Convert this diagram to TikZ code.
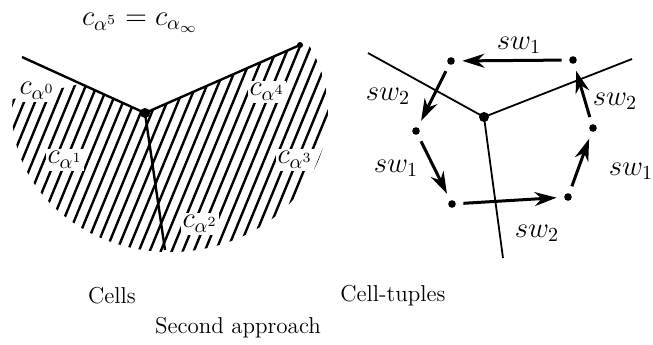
\documentclass[tikz,border=0pt]{standalone}
\usetikzlibrary{arrows.meta}

\begin{document}
\begin{tikzpicture}[
  x=0.5pt, y=-0.5pt,
  cellline/.style={line width=1.2pt},
  cellhatch/.style={line width=1.2pt},
  tupleline/.style={line width=0.9pt},
  vertexdot/.style={circle, fill=black, inner sep=0pt, minimum size=5pt},
  enddot/.style={circle, fill=black, inner sep=0pt, minimum size=3pt},
  tupledot/.style={circle, fill=black, inner sep=0pt, minimum size=3.8pt},
  cellname/.style={fill=white, inner sep=1pt, font=\fontsize{14}{16}\selectfont},
  swname/.style={inner sep=1pt, font=\fontsize{14}{16}\selectfont},
  swarrow/.style={
    -{Stealth[length=11pt, width=7pt, inset=3.5pt]}, line width=1.5pt,
    shorten <=3.6pt, shorten >=3.6pt,
  },
  captiontext/.style={font=\fontsize{11.5}{13}\selectfont},
]
\useasboundingbox (0,0) rectangle (653,344);

% cells
\begin{scope}
  \clip (0,102) -- (80,84) -- (145,113) -- (300,45) -- (340,45)
    -- (340,270) -- (0,270) -- cycle;
  \clip (170,112) ellipse [x radius=79pt, y radius=70pt];
  \foreach \hx in {0,11,...,473}
    \draw[cellhatch] (\hx,0) -- ++(-111,270);
\end{scope}
\coordinate (cellleft) at (22,57);
\coordinate (cellbottom) at (165,250);
\node[vertexdot] (cellvertex) at (145,113) {};
\node[enddot] (cellend) at (300,45) {};
\draw[cellline] (cellleft) -- (cellvertex.center) -- (cellend.center);
\draw[cellline] (cellvertex.center) -- (cellbottom);

\node[cellname, fill=none] (cellinf) at (140,23) {$c_{\alpha^5}=c_{\alpha_\infty}$};
\node[cellname] (cell0) at (37,91) {$c_{\alpha^0}$};
\node[cellname] (cell1) at (65,160) {$c_{\alpha^1}$};
\node[cellname] (cell2) at (200,224) {$c_{\alpha^2}$};
\node[cellname] (cell3) at (295,160) {$c_{\alpha^3}$};
\node[cellname] (cell4) at (267,92) {$c_{\alpha^4}$};

% cell-tuples
\coordinate (tupleleft) at (368,53);
\coordinate (tupleright) at (632,59);
\coordinate (tuplebottom) at (503,258);
\node[vertexdot] (tuplevertex) at (484,117) {};
\draw[tupleline] (tupleleft) -- (tuplevertex.center) -- (tupleright);
\draw[tupleline] (tuplevertex.center) -- (tuplebottom);

\node[tupledot] (tupleA) at (451,61) {};
\node[tupledot] (tupleB) at (573,60) {};
\node[tupledot] (tupleC) at (593,128) {};
\node[tupledot] (tupleD) at (568,197) {};
\node[tupledot] (tupleE) at (452,204) {};
\node[tupledot] (tupleF) at (416,131) {};

\draw[swarrow] (tupleB) -- (tupleA);
\draw[swarrow] (tupleA) -- (tupleF);
\draw[swarrow] (tupleF) -- (tupleE);
\draw[swarrow] (tupleE) -- (tupleD);
\draw[swarrow] (tupleD) -- (tupleC);
\draw[swarrow] (tupleC) -- (tupleB);

\node[swname] (swAB) at (519,45) {$sw_1$};
\node[swname] (swAF) at (388,96) {$sw_2$};
\node[swname] (swFE) at (396,168) {$sw_1$};
\node[swname] (swED) at (537,233) {$sw_2$};
\node[swname] (swDC) at (631,171) {$sw_1$};
\node[swname] (swCB) at (615,101) {$sw_2$};

% captions
\node[captiontext] (cellscaption) at (112,296) {Cells};
\node[captiontext] (tuplescaption) at (393,296) {Cell-tuples};
\node[captiontext] (approachcaption) at (238,328) {Second approach};
\end{tikzpicture}
\end{document}
